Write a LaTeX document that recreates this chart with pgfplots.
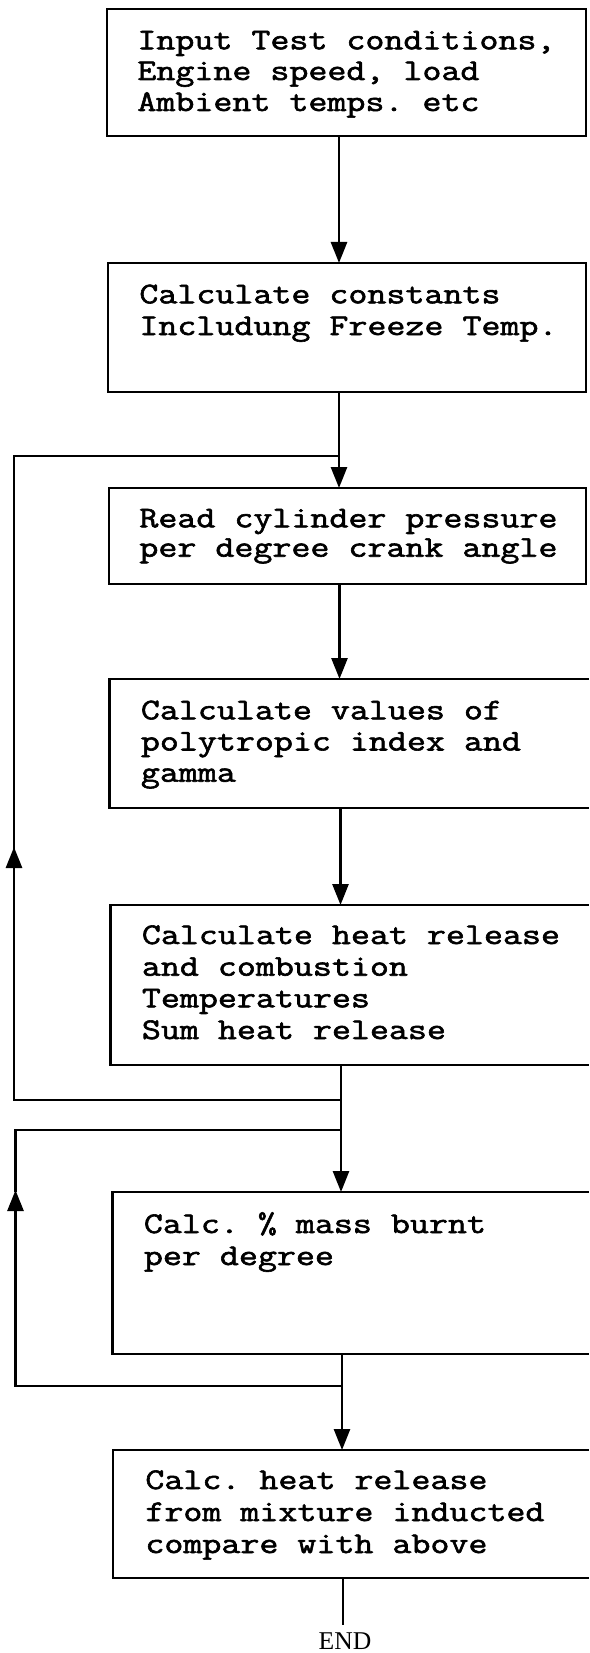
\documentclass[border=0pt]{standalone}
\usepackage{fontspec}
\setmonofont[FakeStretch=1.23, FakeBold=2]{Latin Modern Mono}
\newfontfamily\endfont{Liberation Serif}
\usepackage{pgfplots}
\pgfplotsset{compat=1.18}
\usetikzlibrary{arrows.meta}

% 1 unit = 1 px of the 588x1653 reference, y runs downwards
\pgfplotsset{
  flow/.style={
    width=294pt, height=826.5pt, scale only axis,
    xmin=0, xmax=588, ymin=0, ymax=1653, y dir=reverse,
    hide axis, clip=false,
  },
  box/.style={black, line width=1.3pt, line cap=rect, line join=miter, mark=none},
  wire/.style={black, line width=1.3pt, mark=none},
  arr/.style={wire, -{Triangle[width=8pt, length=10.5pt]}},
}
\tikzset{
  lbl/.style={anchor=base west, inner sep=0pt,
    font=\ttfamily\fontsize{15}{15}\selectfont},
}

\begin{document}
\begin{tikzpicture}
\begin{axis}[flow]
\addplot[draw=none] coordinates {(0,0) (588,1653)};

% --- boxes (last four run off the right edge)
\addplot[box] coordinates {(107,9) (586,9) (586,136) (107,136) (107,9)};
\addplot[box] coordinates {(108,263) (586,263) (586,392) (108,392) (108,263)};
\addplot[box] coordinates {(109,488) (586,488) (586,584) (109,584) (109,488)};
\addplot[box] coordinates {(588,679) (109.5,679) (109.5,808) (588,808)};
\addplot[box] coordinates {(588,905) (110.5,905) (110.5,1065) (588,1065)};
\addplot[box] coordinates {(588,1192) (112.5,1192) (112.5,1354) (588,1354)};
\addplot[box] coordinates {(588,1450) (113,1450) (113,1578) (588,1578)};

% --- main flow
\addplot[arr] coordinates {(339,136) (339,263)};
\addplot[arr] coordinates {(339,392) (339,488)};
\addplot[arr] coordinates {(339.5,584) (339.5,679)};
\addplot[arr] coordinates {(340.5,808) (340.5,905)};
\addplot[arr] coordinates {(341,1065) (341,1192)};
\addplot[arr] coordinates {(342,1354) (342,1450)};
\addplot[wire] coordinates {(343,1578) (343,1625)};

% --- loop back to "Read cylinder pressure"
\addplot[arr] coordinates {(341,1100) (14,1100) (14,847)};
\addplot[wire] coordinates {(14,850) (14,456) (339,456)};

% --- loop back to "Calc. % mass burnt"
\addplot[arr] coordinates {(342,1386) (15.5,1386) (15.5,1190)};
\addplot[wire] coordinates {(15.5,1192) (15.5,1130) (341,1130)};

% --- text
\node[lbl] at (axis cs:137,49.3) {Input Test conditions,};
\node[lbl] at (axis cs:137,80) {Engine speed, load};
\node[lbl] at (axis cs:137,111) {Ambient temps. etc};

\node[lbl] at (axis cs:139,303.3) {Calculate constants};
\node[lbl] at (axis cs:139,335) {Includung Freeze Temp.};

\node[lbl] at (axis cs:139,527.3) {Read cylinder pressure};
\node[lbl] at (axis cs:139,556.7) {per degree crank angle};

\node[lbl] at (axis cs:140.5,719.3) {Calculate values of};
\node[lbl] at (axis cs:140.5,750.5) {polytropic index and};
\node[lbl] at (axis cs:140.5,781.7) {gamma};

\node[lbl] at (axis cs:141.5,944) {Calculate heat release};
\node[lbl] at (axis cs:141.5,975.7) {and combustion};
\node[lbl] at (axis cs:141.5,1007.3) {Temperatures};
\node[lbl] at (axis cs:141.5,1039) {Sum heat release};

\node[lbl] at (axis cs:143.5,1233) {Calc. \% mass burnt};
\node[lbl] at (axis cs:143.5,1265) {per degree};

\node[lbl] at (axis cs:145,1489) {Calc. heat release};
\node[lbl] at (axis cs:145,1521) {from mixture inducted};
\node[lbl] at (axis cs:145,1553) {compare with above};

\node[anchor=base, inner sep=0pt, font=\endfont\fontsize{12.8}{12.8}\selectfont]
  at (axis cs:345,1649) {END};
\end{axis}
\end{tikzpicture}
\end{document}
